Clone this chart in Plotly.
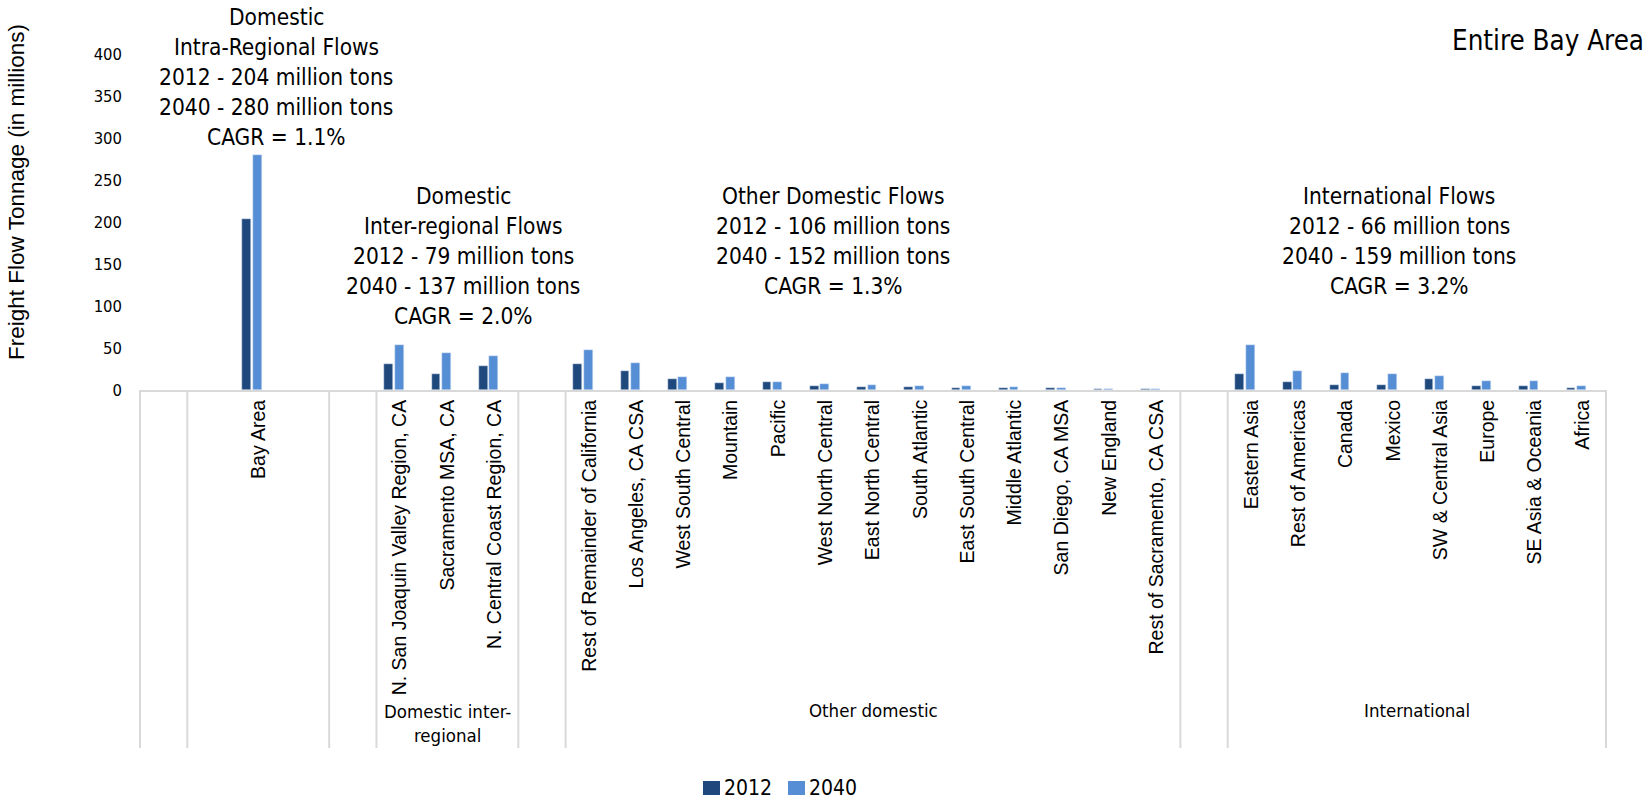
import plotly.graph_objects as go

# Origin regions of freight flowing to the Bay Area (million tons)
region_labels = [
    "", "", "Bay Area", "",
    "", "N. San Joaquin Valley Region, CA", "Sacramento MSA, CA", "N. Central Coast Region, CA",
    "", "Rest of Remainder of California", "Los Angeles, CA CSA", "West South Central", "Mountain",
    "Pacific", "West North Central", "East North Central", "South Atlantic", "East South Central",
    "Middle Atlantic", "San Diego, CA MSA", "New England", "Rest of Sacramento, CA CSA",
    "", "Eastern Asia", "Rest of Americas", "Canada", "Mexico", "SW & Central Asia", "Europe",
    "SE Asia & Oceania", "Africa",
]
tons_2012 = [
    None, None, 204, None,
    None, 31.5, 19.5, 28,
    None, 31, 23, 13.5, 8.5, 9, 4.8, 3.6, 3.2, 2.8, 2.8, 2.0, 1.2, 0.8,
    None, 19, 9, 6.5, 6, 13.5, 5.2, 4.4, 2.4,
]
tons_2040 = [
    None, None, 280, None,
    None, 53.5, 43.5, 40,
    None, 47.5, 32.5, 16, 15, 10, 7.5, 5.6, 4.8, 4.4, 3.6, 2.0, 1.6, 1.5,
    None, 54, 23, 20.6, 18.5, 16.7, 11.1, 10.3, 4.8,
]
# Outer category groups: (label, number of slots)
outer_groups = [
    ("", 1), ("", 3), ("", 1), ("Domestic inter-<br>regional", 3),
    ("", 1), ("Other domestic", 13), ("", 1), ("International", 8),
]
series_names = ["2012", "2040"]
y_ticks = [0, 50, 100, 150, 200, 250, 300, 350, 400]
YEARS = 2040 - 2012

DARK = "#1F497D"
LIGHT = "#558ED5"
GRID = "#D9D9D9"
NARROW = "DejaVu Sans Condensed, Liberation Sans Narrow, sans-serif"
REGULAR = "Liberation Sans, Arial, sans-serif"

W, H = 1648, 804
PL, PR, PT, PB = 140, 1606, 54, 390
n_slots = len(region_labels)
slot_pos = list(range(n_slots))


def px_x(px):
    return (px - PL) / (PR - PL)


def px_y(py):
    return (PB - py) / (PB - PT)


def idx_to_paper(v):
    return (v + 0.5) / n_slots


fig = go.Figure()
fig.add_bar(x=slot_pos, y=tons_2012, name=series_names[0], marker_color=DARK,
            width=0.185, offset=-0.335, showlegend=False)
fig.add_bar(x=slot_pos, y=tons_2040, name=series_names[1], marker_color=LIGHT,
            width=0.185, offset=-0.113, showlegend=False)

# Group dividers below the category axis
shapes = []
bounds = [-0.5]
for _, size in outer_groups:
    bounds.append(bounds[-1] + size)
for b in bounds:
    xp = idx_to_paper(b)
    shapes.append(dict(type="line", xref="paper", yref="paper", x0=xp, x1=xp,
                       y0=0, y1=px_y(748), line=dict(color=GRID, width=2)))

annotations = []
start = 0
for label, size in outer_groups:
    if label:
        centre = start + (size - 1) / 2
        n_lines = label.count("<br>") + 1
        annotations.append(dict(x=idx_to_paper(centre), y=px_y(710 + 13 * (n_lines - 1)),
                                xref="paper", yref="paper", text=label, showarrow=False,
                                xanchor="center", yanchor="middle",
                                font=dict(family=NARROW, size=18.5, color="black")))
    start += size


def seg_total(values, a, b):
    return sum(v for v in values[a:b] if v is not None)


def flow_note(title_lines, a, b):
    t12 = round(seg_total(tons_2012, a, b))
    t40 = round(seg_total(tons_2040, a, b))
    cagr = (t40 / t12) ** (1 / YEARS) - 1
    return title_lines + [f"2012 - {t12} million tons", f"2040 - {t40} million tons",
                          f"CAGR = {cagr * 100:.1f}%"]


notes = [
    (flow_note(["Domestic", "Intra-Regional Flows"], 0, 4), 276, 17),
    (flow_note(["Domestic", "Inter-regional Flows"], 4, 8), 463, 196),
    (flow_note(["Other Domestic Flows"], 8, 22), 833, 196),
    (flow_note(["International Flows"], 22, 31), 1399, 196),
]
for lines, cx, top in notes:
    for k, line in enumerate(lines):
        annotations.append(dict(x=px_x(cx), y=px_y(top + 30 * k), xref="paper", yref="paper",
                                text=line, showarrow=False, xanchor="center", yanchor="middle",
                                font=dict(family=NARROW, size=22.5, color="black")))

annotations.append(dict(x=px_x(1646), y=px_y(40), xref="paper", yref="paper",
                        text="Entire Bay Area", showarrow=False, xanchor="right", yanchor="middle",
                        font=dict(family=NARROW, size=27.5, color="black")))
annotations.append(dict(x=px_x(16), y=px_y(192), xref="paper", yref="paper",
                        text="Freight Flow Tonnage (in millions)", textangle=-90, showarrow=False,
                        xanchor="center", yanchor="middle",
                        font=dict(family=REGULAR, size=22.5, color="black")))

# Legend: colour swatch followed by series name
legend_items = [(series_names[0], DARK, 703), (series_names[1], LIGHT, 788)]
for name, colour, left in legend_items:
    shapes.append(dict(type="rect", xref="paper", yref="paper",
                       x0=px_x(left), x1=px_x(left + 17), y0=px_y(795), y1=px_y(781),
                       fillcolor=colour, line=dict(width=0)))
    annotations.append(dict(x=px_x(left + 19), y=px_y(788), xref="paper", yref="paper",
                            text=name, showarrow=False, xanchor="left", yanchor="middle",
                            font=dict(family=NARROW, size=21, color="black")))

fig.update_layout(
    width=W, height=H,
    margin=dict(l=PL, r=W - PR, t=PT, b=H - PB, autoexpand=False),
    paper_bgcolor="white", plot_bgcolor="white",
    barmode="overlay", bargap=0,
    showlegend=False,
    shapes=shapes,
    annotations=annotations,
    xaxis=dict(range=[-0.5, n_slots - 0.5], tickmode="array", tickvals=slot_pos,
               ticktext=region_labels, tickangle=-90, showgrid=False, zeroline=False,
               showline=True, linecolor=GRID, linewidth=2, ticks="",
               tickfont=dict(family=REGULAR, size=19.5, color="black")),
    yaxis=dict(range=[0, 400], tickmode="array", tickvals=y_ticks, showgrid=False,
               zeroline=False, showline=False, ticks="", ticklabelstandoff=17,
               tickfont=dict(family=NARROW, size=16.5, color="black")),
)

fig.write_html("out.html")
